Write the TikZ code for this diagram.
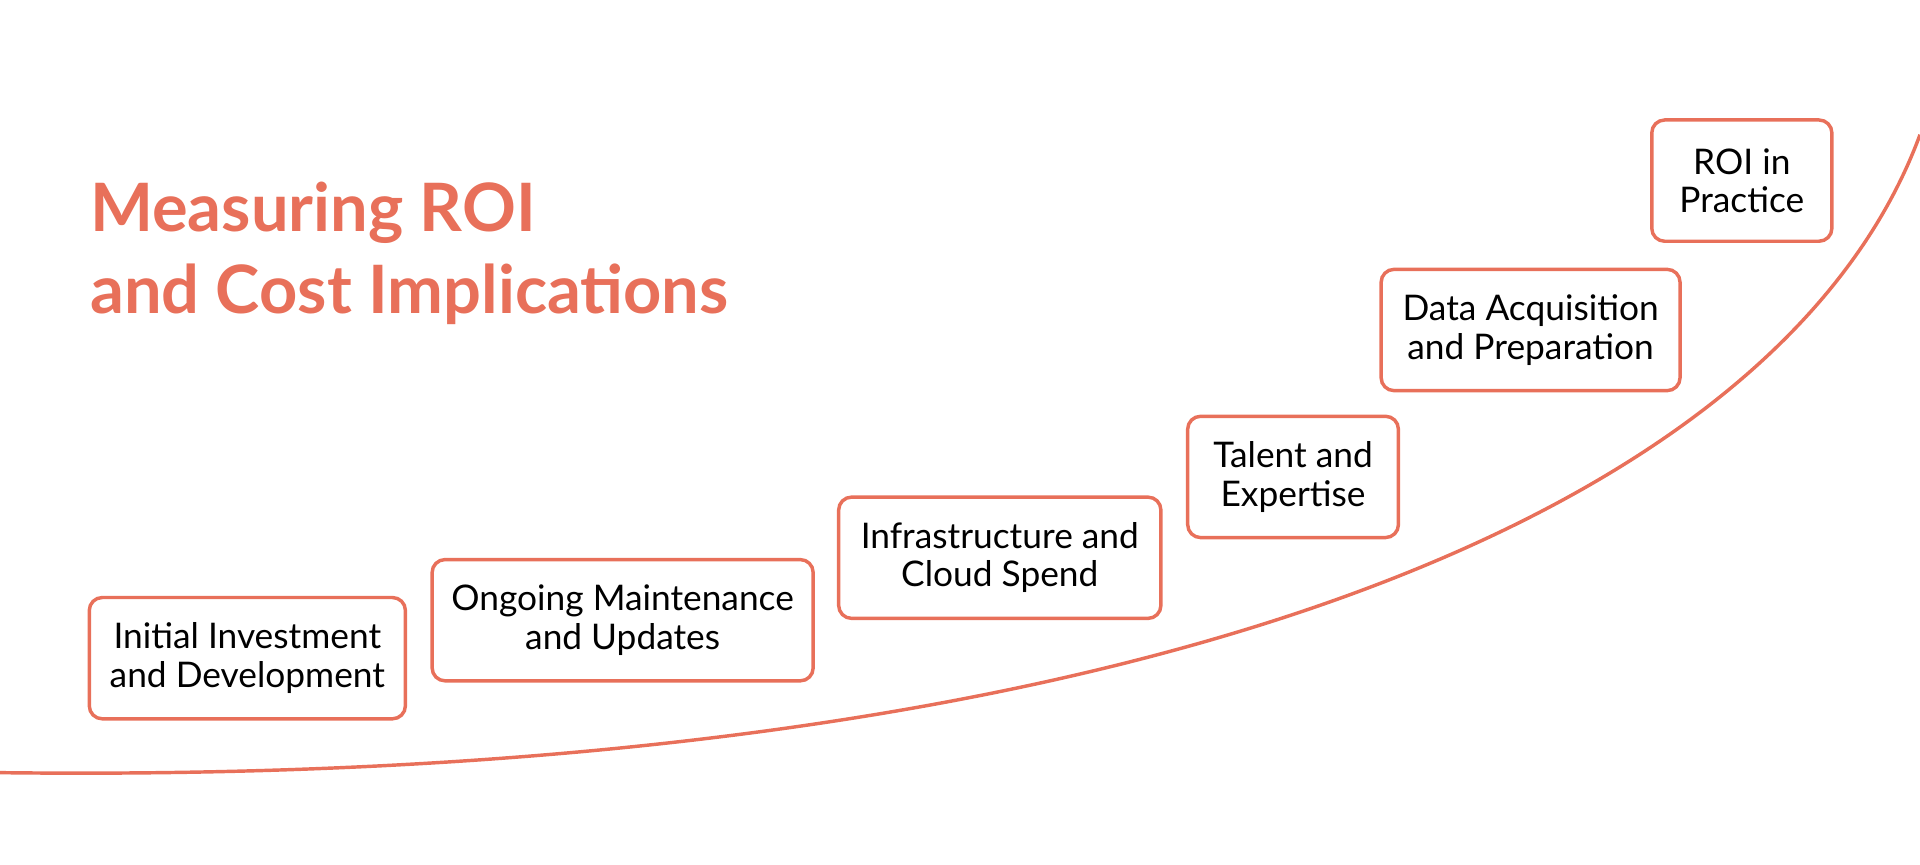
\documentclass[tikz,border=0pt]{standalone}
\usepackage{fontspec}
\setmainfont{Lato}
\usepackage{tikz}
\definecolor{roi}{HTML}{E8705A}

\begin{document}
\begin{tikzpicture}[x=0.01cm,y=-0.01cm]
  \useasboundingbox (0,0) rectangle (1568,706);
  \begin{scope}[every node/.style={rectangle, rounded corners=3pt, draw=roi, line width=0.8pt, align=center, font=\fontsize{8.2pt}{8.9pt}\selectfont}]
    \node[minimum width=2.58cm, minimum height=0.99cm] (init) at (202,537.5) {Initial Investment\\and Development};
    \node[minimum width=3.11cm, minimum height=0.99cm] (maint) at (508.5,506.5) {Ongoing Maintenance\\and Updates};
    \node[minimum width=2.63cm, minimum height=0.99cm] (infra) at (816.5,455.5) {Infrastructure and\\Cloud Spend};
    \node[minimum width=1.72cm, minimum height=0.99cm] (talent) at (1056,389.5) {Talent and\\Expertise};
    \node[minimum width=2.44cm, minimum height=0.99cm] (data) at (1250,269.5) {Data Acquisition\\and Preparation};
    \node[minimum width=1.47cm, minimum height=0.99cm] (prac) at (1422.5,147.5) {ROI in\\Practice};
  \end{scope}

  \node[anchor=north west, align=left, text=roi, inner sep=0pt, font=\fontsize{15.5pt}{19pt}\selectfont\bfseries] (title) at (73,148) {Measuring ROI\\and Cost Implications};

  \coordinate (start) at (0,631);
  \coordinate (stop) at (1568,110);
  \draw[roi, line width=0.8pt] (start) .. controls (900,642) and (1450,430) .. (stop);
\end{tikzpicture}
\end{document}
